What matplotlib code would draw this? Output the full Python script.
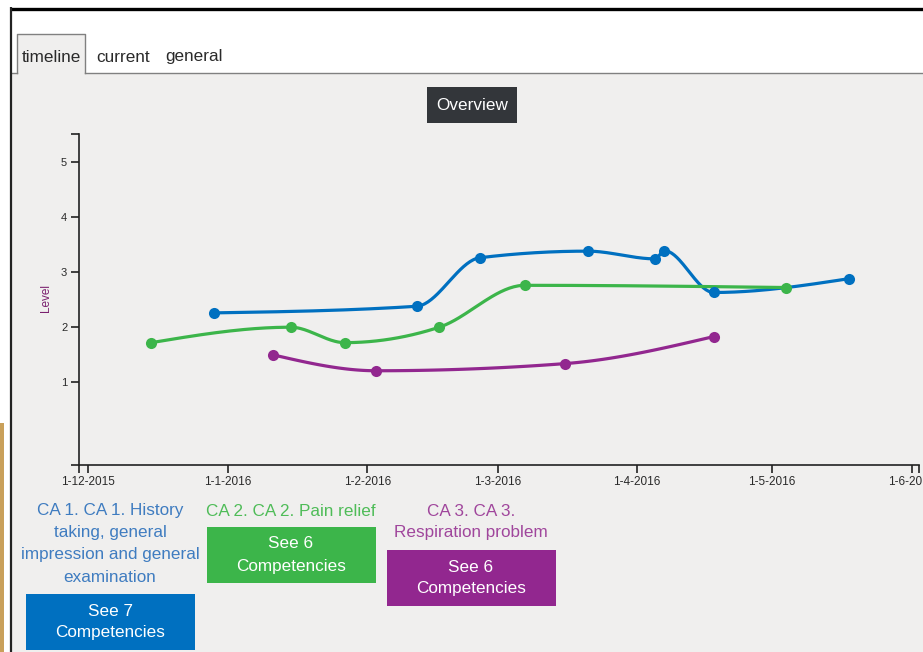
import numpy as np
import matplotlib
matplotlib.use('Agg')
import matplotlib.pyplot as plt
import matplotlib.dates as mdates
from matplotlib.patches import Rectangle
import datetime as dt

plt.rcParams['font.family'] = ['Liberation Sans', 'DejaVu Sans']

#------------------------------------------------Data

blue_dates = ['2015-12-29', '2016-02-12', '2016-02-26', '2016-03-21',
              '2016-04-05', '2016-04-07', '2016-04-18', '2016-05-18']
blue_levels = [2.26, 2.38, 3.26, 3.38, 3.24, 3.39, 2.63, 2.88]

green_dates = ['2015-12-15', '2016-01-15', '2016-01-27', '2016-02-17',
               '2016-03-07', '2016-05-04']
green_levels = [1.72, 2.00, 1.72, 2.00, 2.76, 2.72]

purple_dates = ['2016-01-11', '2016-02-03', '2016-03-16', '2016-04-18']
purple_levels = [1.50, 1.21, 1.34, 1.83]

month_ticks = ['2015-12-01', '2016-01-01', '2016-02-01', '2016-03-01',
               '2016-04-01', '2016-05-01', '2016-06-01']
level_ticks = [1, 2, 3, 4, 5]

tabs = ['timeline', 'current', 'general']
ca_titles = ['CA 1. CA 1. History\ntaking, general\nimpression and general\nexamination',
             'CA 2. CA 2. Pain relief',
             'CA 3. CA 3.\nRespiration problem']
ca_buttons = ['See 7\nCompetencies', 'See 6\nCompetencies', 'See 6\nCompetencies']

BLUE = '#0070c0'
GREEN = '#3cb54a'
PURPLE = '#92278f'
PANEL = '#f0efee'
FS = 12.3   # ~17px text

#------------------------------------------------Fonctions

def to_num(dates):
    return mdates.date2num([dt.datetime.strptime(d, '%Y-%m-%d') for d in dates])

def monotone_x(x, y, n=40):
    # same curve as d3.curveMonotoneX
    x = np.asarray(x, float)
    y = np.asarray(y, float)
    h = np.diff(x)
    s = np.diff(y) / h
    t = np.zeros(len(x))
    for i in range(1, len(x) - 1):
        p = (s[i-1]*h[i] + s[i]*h[i-1]) / (h[i-1] + h[i])
        sg = (1 if s[i-1] >= 0 else -1) + (1 if s[i] >= 0 else -1)
        t[i] = sg * min(abs(s[i-1]), abs(s[i]), 0.5*abs(p))
    if len(x) > 2:
        t[0] = (3*s[0] - t[1]) / 2
        t[-1] = (3*s[-1] - t[-2]) / 2
    else:
        t[:] = s[0]
    xs, ys = [], []
    u = np.linspace(0, 1, n)
    for i in range(len(x) - 1):
        h00 = 2*u**3 - 3*u**2 + 1
        h10 = u**3 - 2*u**2 + u
        h01 = -2*u**3 + 3*u**2
        h11 = u**3 - u**2
        xs.append(x[i] + u*h[i])
        ys.append(h00*y[i] + h10*h[i]*t[i] + h01*y[i+1] + h11*h[i]*t[i+1])
    return np.concatenate(xs), np.concatenate(ys)

#------------------------------------------------Figure

W, H = 923, 652
fig = plt.figure(figsize=(W/100, H/100), dpi=100)
fig.patch.set_facecolor('white')

bg = fig.add_axes([0, 0, 1, 1], zorder=0)
bg.set_xlim(0, W)
bg.set_ylim(H, 0)
bg.axis('off')

# panel + frame
bg.add_patch(Rectangle((11, 73), W - 11, H - 73, color=PANEL, lw=0))
bg.add_patch(Rectangle((17, 34), 68, 39, facecolor=PANEL, lw=0))
bg.plot([17, 17, 85, 85], [73, 34, 34, 73], color='#808080', lw=1)
bg.plot([11, 17], [73, 73], color='#808080', lw=1)
bg.plot([85, W], [73, 73], color='#808080', lw=1)
bg.plot([10, W], [8.5, 8.5], color='black', lw=2.4, solid_capstyle='butt')
bg.plot([11, 11], [7, H], color='#222222', lw=1.6, solid_capstyle='butt')
bg.add_patch(Rectangle((0, 423), 3.5, H - 423, color='#c9a05a', lw=0))

# tabs
bg.text(51, 57, tabs[0], fontsize=FS, color='#2a2a2a', ha='center', va='center')
bg.text(96, 57, tabs[1], fontsize=FS, color='#2a2a2a', ha='left', va='center')
bg.text(165, 57, tabs[2], fontsize=FS, color='#2a2a2a', ha='left', va='center')

# Overview label
bg.add_patch(Rectangle((427, 87), 90, 36, color='#33363a', lw=0))
bg.text(472, 105, 'Overview', fontsize=FS, color='white', ha='center', va='center')

bg.text(46, 298, 'Level', fontsize=8.5, color='#7a1f6e', rotation=90,
        ha='center', va='center')

# legend blocks under the chart
title_cols = ['#3f7cc0', '#4fbc58', '#a0469c']
btn_cols = [BLUE, GREEN, PURPLE]
centers = [110, 291, 471]
btn_top = [594, 527, 550]
for i in range(3):
    for k, line in enumerate(ca_titles[i].split('\n')):
        bg.text(centers[i], 511 + 22*k, line, fontsize=FS, color=title_cols[i],
                ha='center', va='center')
    bg.add_patch(Rectangle((centers[i] - 84.5, btn_top[i]), 169, 56,
                           color=btn_cols[i], lw=0))
    for k, line in enumerate(ca_buttons[i].split('\n')):
        bg.text(centers[i], btn_top[i] + 17 + 22*k, line, fontsize=FS,
                color='white', ha='center', va='center')

#------------------------------------------------Chart

x0, x1 = 79, 919.3
y0, y1 = 134.3, 465
ax = fig.add_axes([x0/W, 1 - y1/H, (x1 - x0)/W, (y1 - y0)/H], zorder=1)
ax.patch.set_alpha(0)

for dates, lev, col in [(blue_dates, blue_levels, BLUE),
                        (green_dates, green_levels, GREEN),
                        (purple_dates, purple_levels, PURPLE)]:
    xn = to_num(dates)
    cx, cy = monotone_x(xn, lev)
    ax.plot(cx, cy, color=col, lw=2.3, solid_capstyle='round', zorder=2)
    ax.plot(xn, lev, 'o', color=col, ms=8, mec='none', zorder=3)

dec1 = to_num(['2015-12-01'])[0]
xlo = dec1 - 2.07
xhi = dec1 + 184.7
ax.set_xlim(xlo, xhi)
ax.set_ylim(-0.5, 5.5)

mt = list(to_num(month_ticks))
ax.set_xticks([xlo] + mt + [xhi])
xl = ['']
for d in month_ticks:
    dd = dt.datetime.strptime(d, '%Y-%m-%d')
    xl.append('%d-%d-%d' % (dd.day, dd.month, dd.year))
ax.set_xticklabels(xl + [''])
ax.set_yticks([-0.5] + level_ticks + [5.5])
ax.set_yticklabels([''] + [str(v) for v in level_ticks] + [''])

for s in ['top', 'right']:
    ax.spines[s].set_visible(False)
for s in ['left', 'bottom']:
    ax.spines[s].set_color('#222222')
    ax.spines[s].set_linewidth(1.2)
ax.tick_params(axis='x', length=5.5, width=1.2, color='#222222', labelsize=8.5,
               labelcolor='#2a2a2a', pad=2.5)
ax.tick_params(axis='y', length=5.5, width=1.2, color='#222222', labelsize=8,
               labelcolor='#2a2a2a', pad=3)

fig.savefig('out.png', dpi=100)
